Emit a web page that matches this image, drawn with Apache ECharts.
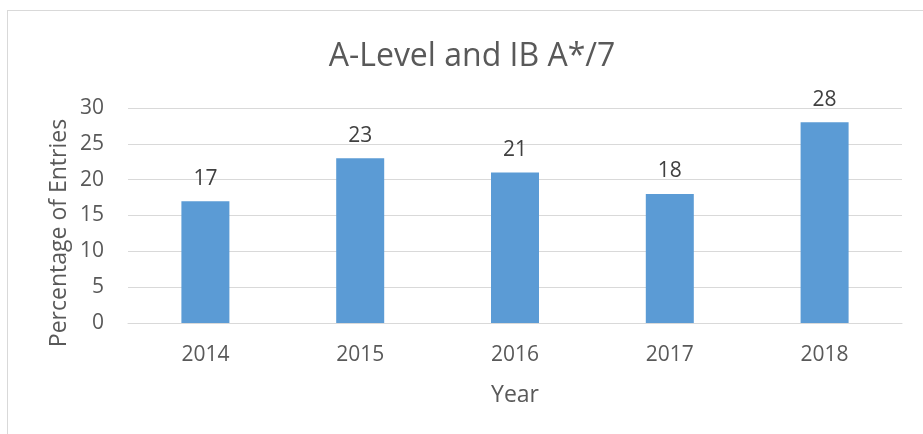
<!DOCTYPE html>
<html>
<head>
<meta charset="utf-8">
<script src="https://cdn.jsdelivr.net/npm/echarts@6/dist/echarts.min.js"></script>
<style>
  html, body { margin: 0; padding: 0; background: #fff; overflow: hidden; }
  #frame { position: absolute; left: 7px; top: 10px; width: 1000px; height: 500px; border: 1px solid #d9d9d9; }
  #chart { position: absolute; left: 0; top: 0; width: 923px; height: 434px; }
</style>
</head>
<body>
<div id="frame"></div>
<div id="chart"></div>
<script>
const years = ['2014', '2015', '2016', '2017', '2018'];
const percentEntries = [17, 23, 21, 18, 28];
const yTicks = { min: 0, max: 30, interval: 5 };

const font = '"Open Sans", "Liberation Sans", sans-serif';
const textColor = '#595959';

const chart = echarts.init(document.getElementById('chart'));

chart.setOption({
  animation: false,
  textStyle: { fontFamily: font },
  title: {
    text: 'A-Level and IB A*/7',
    left: 467,
    top: 36,
    textAlign: 'center',
    textStyle: { fontSize: 32, fontWeight: 'normal', color: textColor, fontFamily: font }
  },
  grid: { left: 128, right: 21, top: 108, bottom: 111, containLabel: false },
  xAxis: {
    type: 'category',
    data: years,
    name: 'Year',
    nameLocation: 'middle',
    nameGap: 61,
    nameTextStyle: { fontSize: 23, color: textColor },
    axisLine: { lineStyle: { color: '#d9d9d9', width: 1 } },
    axisTick: { show: false },
    axisLabel: { fontSize: 21, color: textColor, margin: 22 }
  },
  yAxis: {
    type: 'value',
    min: yTicks.min,
    max: yTicks.max,
    interval: yTicks.interval,
    axisLine: { show: false },
    axisTick: { show: false },
    axisLabel: { fontSize: 21, color: textColor, margin: 24 },
    splitLine: { lineStyle: { color: '#d9d9d9', width: 1 } }
  },
  graphic: [{
    type: 'text',
    x: 59,
    y: 233,
    rotation: Math.PI / 2,
    style: {
      text: 'Percentage of Entries',
      fontSize: 23,
      fontFamily: font,
      fill: textColor,
      align: 'center',
      verticalAlign: 'middle'
    }
  }],
  series: [{
    type: 'bar',
    data: percentEntries,
    barWidth: 48,
    itemStyle: { color: '#5b9bd5' },
    label: {
      show: true,
      position: 'top',
      distance: 12,
      fontSize: 21,
      color: '#404040'
    }
  }]
});
</script>
</body>
</html>
